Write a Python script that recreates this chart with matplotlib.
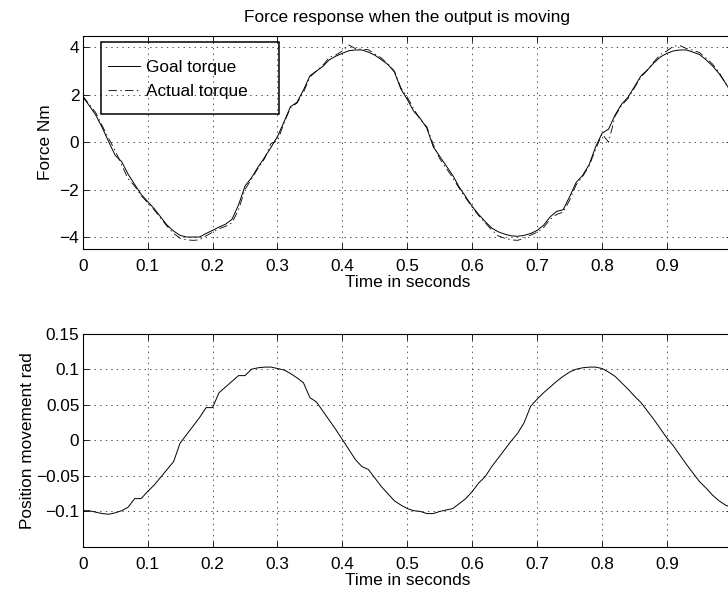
import numpy as np
import matplotlib
matplotlib.use("Agg")
import matplotlib.pyplot as plt
from matplotlib.patches import Rectangle

plt.rcParams['font.family'] = ['Liberation Sans', 'DejaVu Sans']
plt.rcParams['lines.scale_dashes'] = False

# ---------------- data ----------------
time = np.linspace(0.0, 1.0, 101)

goal_torque = [
    1.92, 1.55, 1.15, 0.62, 0.02, -0.55, -0.82, -1.35, -1.78, -2.20,
    -2.50, -2.80, -3.15, -3.50, -3.75, -3.93, -4.00, -4.00, -4.00, -3.85,
    -3.72, -3.58, -3.46, -3.25, -2.65, -1.85, -1.50, -1.05, -0.65, -0.22,
    0.24, 0.85, 1.50, 1.68, 2.20, 2.80, 3.00, 3.20, 3.48, 3.63,
    3.75, 3.86, 3.89, 3.89, 3.80, 3.67, 3.48, 3.28, 2.97, 2.25,
    1.80, 1.30, 1.00, 0.60, -0.20, -0.60, -1.00, -1.40, -1.90, -2.30,
    -2.71, -3.05, -3.35, -3.62, -3.78, -3.88, -3.95, -3.97, -3.93, -3.85,
    -3.72, -3.50, -3.15, -2.92, -2.85, -2.30, -1.70, -1.40, -0.95, -0.20,
    0.38, 0.55, 1.15, 1.60, 1.90, 2.35, 2.80, 3.05, 3.35, 3.60,
    3.75, 3.85, 3.89, 3.89, 3.80, 3.70, 3.48, 3.22, 2.90, 2.50,
    2.05,
]

actual_torque = [
    1.95, 1.60, 1.25, 0.70, 0.15, -0.35, -0.95, -1.55, -1.85, -2.25,
    -2.55, -2.85, -3.20, -3.55, -3.85, -4.05, -4.12, -4.14, -4.12, -3.95,
    -3.80, -3.65, -3.55, -3.40, -2.85, -2.00, -1.55, -1.10, -0.70, -0.05,
    0.05, 0.80, 1.45, 1.65, 2.10, 2.75, 3.00, 3.25, 3.58, 3.68,
    3.85, 4.10, 3.95, 3.92, 3.90, 3.72, 3.55, 3.30, 3.00, 2.30,
    1.90, 1.40, 0.95, 0.65, -0.10, -0.70, -1.10, -1.50, -1.95, -2.35,
    -2.75, -3.10, -3.40, -3.70, -3.95, -4.05, -4.12, -4.14, -4.05, -3.92,
    -3.80, -3.60, -3.25, -3.05, -2.95, -2.45, -1.80, -1.45, -1.00, -0.30,
    0.35, 0.00, 1.10, 1.55, 1.85, 2.30, 2.75, 3.05, 3.40, 3.70,
    3.85, 4.05, 4.07, 3.95, 3.88, 3.78, 3.55, 3.30, 2.95, 2.50,
    2.00,
]

position = [
    -0.099, -0.099, -0.101, -0.103, -0.104, -0.102, -0.099, -0.094, -0.082, -0.082,
    -0.072, -0.063, -0.052, -0.041, -0.030, -0.004, 0.008, 0.020, 0.032, 0.046,
    0.046, 0.067, 0.075, 0.083, 0.091, 0.091, 0.100, 0.102, 0.103, 0.103,
    0.101, 0.099, 0.094, 0.088, 0.081, 0.060, 0.054, 0.041, 0.028, 0.015,
    0.001, -0.013, -0.027, -0.037, -0.041, -0.053, -0.065, -0.075, -0.085, -0.091,
    -0.096, -0.099, -0.100, -0.103, -0.103, -0.100, -0.098, -0.096, -0.089, -0.082,
    -0.072, -0.060, -0.051, -0.037, -0.025, -0.013, -0.001, 0.010, 0.025, 0.048,
    0.058, 0.067, 0.075, 0.083, 0.090, 0.096, 0.100, 0.102, 0.103, 0.103,
    0.101, 0.096, 0.090, 0.081, 0.072, 0.062, 0.053, 0.041, 0.029, 0.016,
    0.003, -0.008, -0.021, -0.034, -0.046, -0.058, -0.067, -0.077, -0.085, -0.091,
    -0.095,
]

x_ticks = [0.0, 0.1, 0.2, 0.3, 0.4, 0.5, 0.6, 0.7, 0.8, 0.9]
x_tick_labels = ["0", "0.1", "0.2", "0.3", "0.4", "0.5", "0.6", "0.7", "0.8", "0.9"]
force_ticks = [-4, -2, 0, 2, 4]
force_tick_labels = ["\u22124", "\u22122", "0", "2", "4"]
pos_ticks = [-0.1, -0.05, 0.0, 0.05, 0.1, 0.15]
pos_tick_labels = ["\u22120.1", "\u22120.05", "0", "0.05", "0.1", "0.15"]

title_text = "Force response when the output is moving"
xlabel_text = "Time in seconds"
force_label = "Force Nm"
pos_label = "Position movement rad"
legend_labels = ["Goal torque", "Actual torque"]

# ---------------- figure ----------------
FS = 12.4
fig = plt.figure(figsize=(7.28, 5.91), dpi=100)
ax1 = fig.add_axes([0.1136, 0.5789, 0.8918, 0.3610])
ax2 = fig.add_axes([0.1136, 0.0745, 0.8918, 0.3609])

grid_kw = dict(linestyle=(0, (1, 3)), color='0.2', linewidth=0.6)

for ax in (ax1, ax2):
    ax.set_xlim(0, 1)
    ax.set_xticks(x_ticks)
    ax.set_xticklabels(x_tick_labels, fontsize=FS)
    ax.tick_params(axis='both', direction='in', length=4, width=0.6,
                   top=True, right=True, colors='k')
    ax.tick_params(axis='x', pad=7.3)
    ax.tick_params(axis='y', pad=2.4)
    ax.grid(True, **grid_kw)
    for sp in ax.spines.values():
        sp.set_linewidth(0.8)
    ax.set_xlabel(xlabel_text, fontsize=FS, labelpad=1.0)

# top
l1, = ax1.plot(time, goal_torque, color='k', linewidth=0.7, linestyle='-')
l2, = ax1.plot(time, actual_torque, color='k', linewidth=0.6,
               linestyle=(0, (6, 2.5, 1, 2.5)))
ax1.set_ylim(-4.5, 4.5)
ax1.set_yticks(force_ticks)
ax1.set_yticklabels(force_tick_labels, fontsize=FS)
ax1.set_ylabel(force_label, fontsize=FS, labelpad=4.5)
ax1.set_title(title_text, fontsize=FS, pad=9.5)

ax1.add_patch(Rectangle((0.0282, 0.632), 0.2742, 0.336, transform=ax1.transAxes,
                        fill=False, edgecolor='k', linewidth=1.1, zorder=5))
leg = ax1.legend([l1, l2], legend_labels, loc='center left',
                 bbox_to_anchor=(0.0385, 0.7935), frameon=False,
                 borderpad=0, borderaxespad=0, handlelength=1.86,
                 handletextpad=0.38, labelspacing=0.52, fontsize=FS)

# bottom
ax2.plot(time, position, color='k', linewidth=0.7)
ax2.set_ylim(-0.15, 0.15)
ax2.set_yticks(pos_ticks)
ax2.set_yticklabels(pos_tick_labels, fontsize=FS)
ax2.set_ylabel(pos_label, fontsize=FS, labelpad=0.5)

fig.savefig("out.png", dpi=100)
